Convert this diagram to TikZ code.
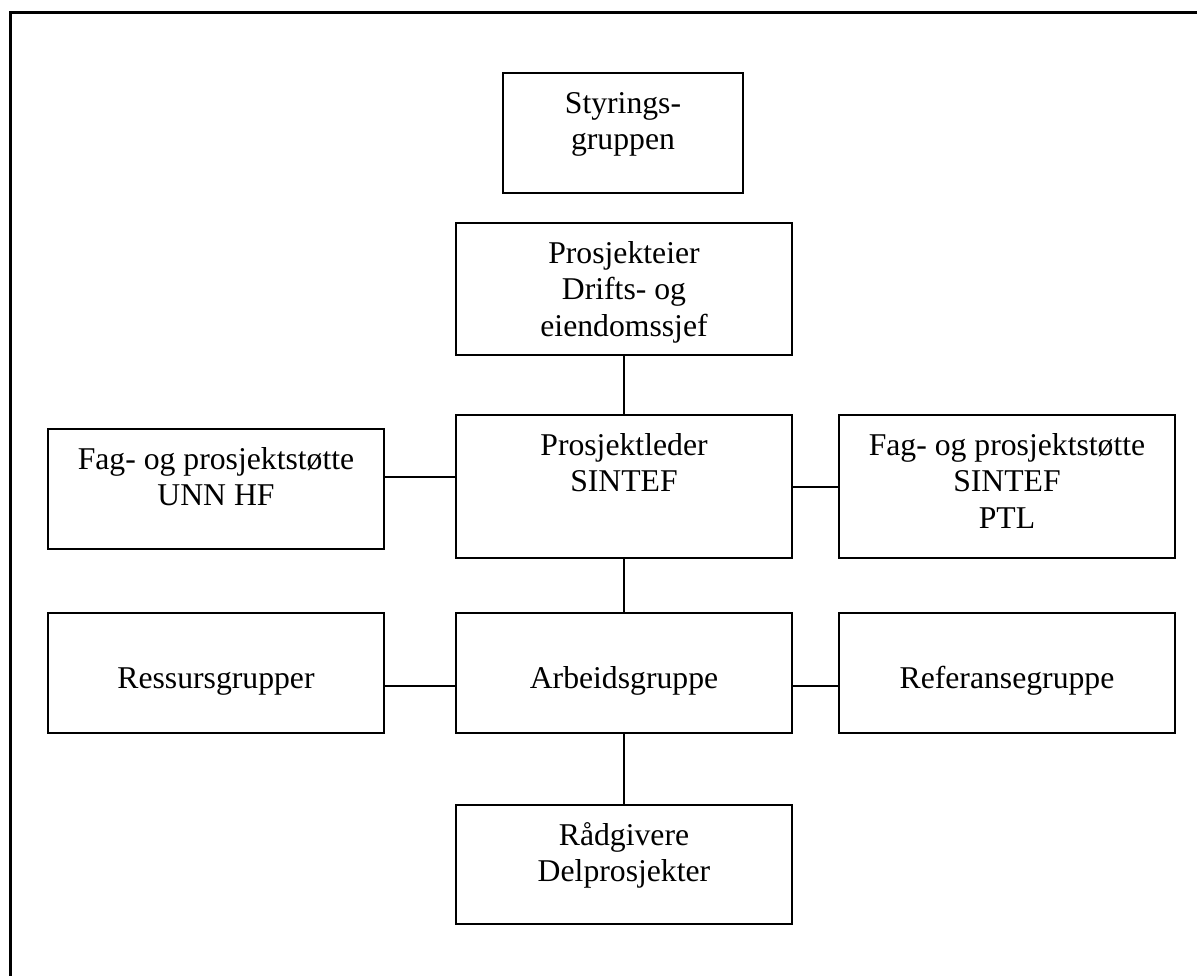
\documentclass[tikz,border=0pt]{standalone}
\usepackage{fontspec}
\setmainfont{Liberation Serif}
\begin{document}
\begin{tikzpicture}[x=1pt,y=-1pt,
  orgbox/.style={draw=black, line width=1.8pt, rectangle, inner sep=0pt, minimum width=336pt},
  orgtext/.style={anchor=north, inner sep=0pt, align=center, font=\fontsize{31.7}{36.5}\selectfont},
  link/.style={draw=black, line width=1.3pt},
  frame/.style={draw=black, line width=2.6pt}]
\useasboundingbox (0,0) rectangle (1197,976);
% frame (partly outside the picture)
\coordinate (fbl) at (10.3,980);
\coordinate (ftl) at (10.3,12.5);
\coordinate (ftr) at (1200,12.5);
\draw[frame] (fbl) -- (ftl) -- (ftr);
% boxes
\node[orgbox, minimum width=240pt, minimum height=120pt] (sty) at (623,133) {};
\node[orgbox, minimum height=132pt] (eier) at (624,289) {};
\node[orgbox, minimum height=143pt] (leder) at (624,486.5) {};
\node[orgbox, minimum height=120pt] (fagl) at (216,489) {};
\node[orgbox, minimum height=143pt] (fagr) at (1007,486.5) {};
\node[orgbox, minimum height=120pt] (ress) at (216,673) {};
\node[orgbox, minimum height=120pt] (arb) at (624,673) {};
\node[orgbox, minimum height=120pt] (ref) at (1007,673) {};
\node[orgbox, minimum height=119pt] (rad) at (624,864.5) {};
% texts
\node[orgtext] (tsty) at ([yshift=-15.5pt]sty.north) {\strut Styrings-\\gruppen};
\node[orgtext] (teier) at ([yshift=-15.5pt]eier.north) {\strut Prosjekteier\\Drifts- og\\eiendomssjef};
\node[orgtext] (tleder) at ([yshift=-15.5pt]leder.north) {\strut Prosjektleder\\SINTEF};
\node[orgtext] (tfagl) at ([yshift=-15.5pt]fagl.north) {\strut Fag- og prosjektstøtte\\UNN HF};
\node[orgtext] (tfagr) at ([yshift=-15.5pt]fagr.north) {\strut Fag- og prosjektstøtte\\SINTEF\\PTL};
\node[orgtext] (tress) at ([yshift=-51pt]ress.north) {\strut Ressursgrupper};
\node[orgtext] (tarb) at ([yshift=-51pt]arb.north) {\strut Arbeidsgruppe};
\node[orgtext] (tref) at ([yshift=-51pt]ref.north) {\strut Referansegruppe};
\node[orgtext] (trad) at ([yshift=-15.5pt]rad.north) {\strut Rådgivere\\Delprosjekter};
% connectors
\draw[link] (eier.south) -- (leder.north);
\draw[link] (fagl.east |- 0,477) -- (leder.west |- 0,477);
\draw[link] (leder.east |- 0,487) -- (fagr.west |- 0,487);
\draw[link] (leder.south) -- (arb.north);
\draw[link] (ress.east |- 0,686) -- (arb.west |- 0,686);
\draw[link] (arb.east |- 0,686) -- (ref.west |- 0,686);
\draw[link] (arb.south) -- (rad.north);
\end{tikzpicture}
\end{document}
